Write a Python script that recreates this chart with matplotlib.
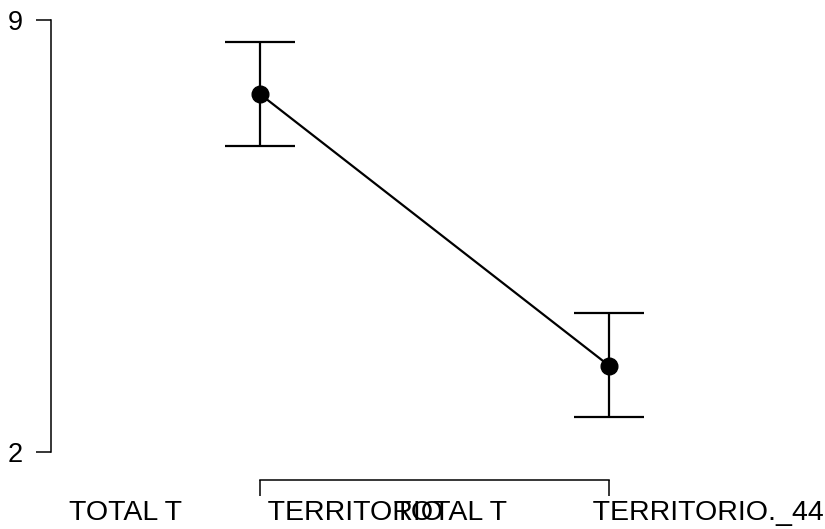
"""
Descriptives plot: mean with 95% CI for two territory groups.
"""

import numpy as np
import matplotlib.pyplot as plt

plt.rcParams['font.family'] = ['Liberation Sans', 'DejaVu Sans']

groups = ['TOTAL T           TERRITORIO ', 'TOTAL T           TERRITORIO._44']
means = [7.80, 3.40]
ci_lower = [6.96, 2.57]
ci_upper = [8.64, 4.25]
yticks = [2, 9]


def make_plot():
    x = np.arange(1, len(groups) + 1)
    m = np.array(means)
    yerr = [m - np.array(ci_lower), np.array(ci_upper) - m]

    fig = plt.figure(figsize=(8.25, 5.29), dpi=100)
    ax = fig.add_axes([51/825, 77/529, 774/825, 432/529])

    ax.errorbar(x, m, yerr=yerr, color='black', lw=1.6, capsize=25.5,
                capthick=1.6, elinewidth=1.6, marker='o', markersize=12,
                zorder=3)

    ax.set_ylim(2, 9)
    ppu = 349.0
    lo = 1 - (260 - 51)/ppu
    ax.set_xlim(lo, lo + 774/ppu)

    ax.set_yticks(yticks)
    ax.set_xticks(x)
    ax.set_xticklabels(groups, ha='center')

    for s in ['top', 'right']:
        ax.spines[s].set_visible(False)
    ax.spines['left'].set_bounds(2, 9)
    ax.spines['bottom'].set_bounds(1, 2)
    ax.spines['bottom'].set_position(('outward', 20))
    for s in ['left', 'bottom']:
        ax.spines[s].set_linewidth(1.1)

    ax.tick_params(axis='y', length=11, width=1.1, pad=9, labelsize=19.5)
    ax.tick_params(axis='x', length=11.5, width=1.1, pad=3, labelsize=20.5)

    plt.savefig('out.png', dpi=100)


if __name__ in ('__main__'):
    make_plot()
